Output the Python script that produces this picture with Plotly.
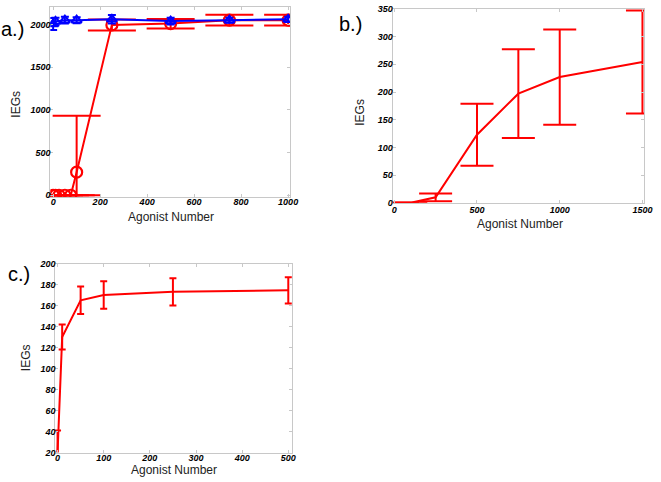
import plotly.graph_objects as go

# ---------------- data ----------------
# Panel a
a_red_x = [0, 10, 25, 50, 75, 100, 250, 500, 750, 1000]
a_red_y = [0, 0, 0, 0, 0, 270, 1995, 2010, 2050, 2050]
a_red_err_plus = [0, 0, 0, 0, 0, 660, 62, 53, 64, 64]
a_red_err_minus = [0, 0, 0, 0, 0, 270, 65, 56, 61, 61]
a_blue_x = [0, 10, 50, 100, 250, 500, 750, 1000]
a_blue_y = [2005, 2035, 2050, 2050, 2060, 2040, 2050, 2060]
a_blue_err = [70, 45, 40, 35, 50, 40, 30, 30]

# Panel b
b_x = [0, 50, 100, 250, 500, 750, 1000, 1500]
b_y = [0, 0, 0, 10, 123, 197, 227, 254]
b_err = [0, 0, 0, 7, 56, 80, 86, 93]

# Panel c
c_x = [0, 10, 50, 100, 250, 500]
c_y = [20, 130, 165, 170, 173, 174.5]
c_err = [21, 12, 13, 13, 13, 12.5]

a_xticks = [0, 200, 400, 600, 800, 1000]
a_yticks = [0, 500, 1000, 1500, 2000]
b_xticks = [0, 500, 1000, 1500]
b_yticks = [0, 50, 100, 150, 200, 250, 300, 350]
c_xticks = [0, 100, 200, 300, 400, 500]
c_yticks = [20, 40, 60, 80, 100, 120, 140, 160, 180, 200]

RED = "#ff0000"
BLUE = "#0000ff"
W, H = 661, 482

fig = go.Figure()

# panel a
fig.add_trace(go.Scatter(
    x=a_red_x, y=a_red_y, mode="lines+markers",
    line=dict(color=RED, width=2),
    marker=dict(symbol="circle-open", size=11, color=RED, line=dict(width=2.2, color=RED)),
    error_y=dict(type="data", symmetric=False, array=a_red_err_plus,
                 arrayminus=a_red_err_minus, color=RED, thickness=2, width=24),
    xaxis="x", yaxis="y", showlegend=False))
fig.add_trace(go.Scatter(
    x=a_blue_x, y=a_blue_y, mode="lines+markers",
    line=dict(color=BLUE, width=2),
    marker=dict(symbol="triangle-up-open", size=9, color=BLUE, line=dict(width=2, color=BLUE)),
    error_y=dict(type="data", array=a_blue_err, color=BLUE, thickness=2, width=4),
    xaxis="x", yaxis="y", showlegend=False))

# panel b
fig.add_trace(go.Scatter(
    x=b_x, y=b_y, mode="lines",
    line=dict(color=RED, width=2),
    error_y=dict(type="data", array=b_err, color=RED, thickness=2, width=16.5),
    xaxis="x2", yaxis="y2", showlegend=False))

# panel c
fig.add_trace(go.Scatter(
    x=c_x, y=c_y, mode="lines",
    line=dict(color=RED, width=2),
    error_y=dict(type="data", array=c_err, color=RED, thickness=2, width=3.5),
    xaxis="x3", yaxis="y3", showlegend=False))

tickfont = dict(family="Liberation Sans", size=9, color="black", weight="bold", style="italic")
FRAME = "#c8c8c8"


def ax(domain, rng, ticks, anchor, standoff=-3):
    return dict(domain=domain, range=rng, tickvals=ticks, ticktext=[str(t) for t in ticks],
                showline=True, linecolor=FRAME, linewidth=1, mirror="ticks",
                ticks="inside", ticklen=3, tickcolor=FRAME, tickwidth=1,
                showgrid=False, zeroline=False, tickfont=tickfont, anchor=anchor,
                ticklabelstandoff=standoff)


def px_dom_x(l, r):
    return [l / W, r / W]


def px_dom_y(t, b):
    return [1 - b / H, 1 - t / H]


fig.update_layout(
    width=W, height=H, margin=dict(l=0, r=0, t=0, b=0),
    paper_bgcolor="white", plot_bgcolor="white",
    xaxis=ax(px_dom_x(50, 293), [-12, 1008], a_xticks, "y", -4),
    yaxis=ax(px_dom_y(2, 196), [-20, 2205], a_yticks, "x"),
    xaxis2=ax(px_dom_x(397, 652), [-10, 1510], b_xticks, "y2", -2),
    yaxis2=ax(px_dom_y(4, 202), [0, 350], b_yticks, "x2"),
    xaxis3=ax(px_dom_x(55, 295), [-5, 508], c_xticks, "y3", -3),
    yaxis3=ax(px_dom_y(264, 457), [20, 200], c_yticks, "x3"),
)

labfont = dict(family="Liberation Sans", size=12, color="#222222")
panfont = dict(family="Liberation Sans", size=20, color="black")


def ann(text, x, y, font, angle=0):
    fig.add_annotation(text=text, x=x / W, y=1 - y / H, xref="paper", yref="paper",
                       showarrow=False, font=font, textangle=angle,
                       xanchor="center", yanchor="middle")


ann("IEGs", 15, 101, labfont, -90)
ann("Agonist Number", 172, 216, labfont)
ann("IEGs", 364, 110, labfont, -90)
ann("Agonist Number", 526, 224, labfont)
ann("IEGs", 25, 360, labfont, -90)
ann("Agonist Number", 175, 475, labfont)
ann("a.)", 12, 24, panfont)
ann("b.)", 354, 19, panfont)
ann("c.)", 18, 275, panfont)

fig.write_html("out.html", config={"displayModeBar": False},
               post_script="document.body.style.margin='0px';document.body.style.overflow='hidden';")
